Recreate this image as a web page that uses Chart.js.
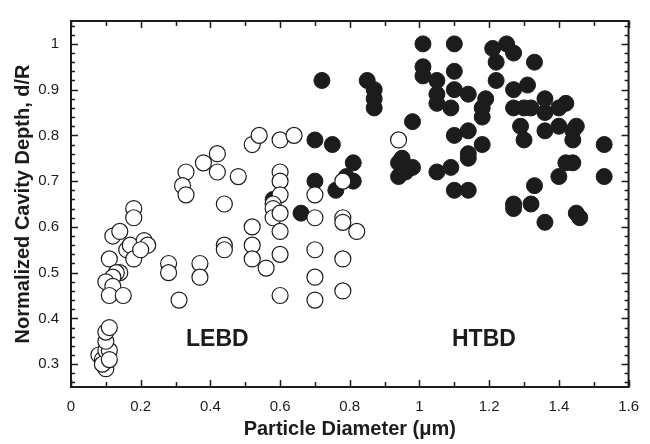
<!DOCTYPE html>
<html><head><meta charset="utf-8">
<script src="https://cdn.jsdelivr.net/npm/chart.js@4.4.1/dist/chart.umd.min.js"></script>
<style>html,body{margin:0;padding:0;background:#fff}#wrap{width:650px;height:444px}</style>
</head><body><div id="wrap"><canvas id="c" width="650" height="444"></canvas></div>
<script>
// ---- data ----
const xTickValues = [0, 0.2, 0.4, 0.6, 0.8, 1, 1.2, 1.4, 1.6];
const yTickValues = [0.3, 0.4, 0.5, 0.6, 0.7, 0.8, 0.9, 1];

const lebdX = [0.08,0.09,0.10,0.09,0.10,0.11,0.10,0.10,0.11,0.11,
  0.18,0.18,0.12,0.14,0.16,0.17,0.21,0.22,0.18,0.11,0.14,0.13,0.12,0.10,0.12,0.11,0.15,0.20,0.28,0.28,0.31,
  0.33,0.32,0.33,0.38,0.42,0.42,0.48,0.44,0.52,0.54,0.60,0.64,0.60,0.60,0.60,0.58,0.58,0.58,0.60,0.60,
  0.52,0.52,0.52,0.44,0.44,0.56,0.60,0.37,0.37,0.60,0.70,0.70,0.78,0.78,0.78,0.82,0.70,0.78,0.70,0.70,0.78,0.94];
const lebdY = [0.32,0.31,0.29,0.30,0.33,0.33,0.35,0.37,0.38,0.31,
  0.64,0.62,0.58,0.59,0.55,0.56,0.57,0.56,0.53,0.53,0.50,0.50,0.49,0.48,0.47,0.45,0.45,0.55,0.52,0.50,0.44,
  0.72,0.69,0.67,0.74,0.76,0.72,0.71,0.65,0.78,0.80,0.79,0.80,0.72,0.70,0.67,0.65,0.64,0.62,0.63,0.59,
  0.60,0.56,0.53,0.56,0.55,0.51,0.54,0.52,0.49,0.45,0.67,0.62,0.70,0.62,0.61,0.59,0.55,0.53,0.49,0.44,0.46,0.79];

const htbdX = [0.58,0.66,0.70,0.75,0.72,0.81,0.79,0.81,0.76,0.70,0.85,0.87,0.87,0.87,0.98,
  0.95,0.94,0.98,0.94,0.96,1.01,1.10,1.01,1.01,1.05,1.05,1.05,1.09,1.10,1.10,1.14,1.05,1.09,1.10,1.14,1.14,1.14,
  1.18,1.10,1.14,1.18,1.18,1.19,1.21,1.22,1.22,1.25,1.27,1.33,1.27,1.31,1.27,1.30,1.32,1.36,1.36,1.40,1.42,
  1.29,1.30,1.36,1.40,1.44,1.45,1.44,1.53,1.42,1.44,1.40,1.53,1.33,1.27,1.27,1.32,1.36,1.45,1.46];
const htbdY = [0.66,0.63,0.79,0.78,0.92,0.74,0.71,0.70,0.68,0.70,0.92,0.90,0.88,0.86,0.83,
  0.75,0.74,0.73,0.71,0.72,1.00,1.00,0.95,0.93,0.92,0.89,0.87,0.86,0.94,0.90,0.89,0.72,0.73,0.80,0.81,0.76,0.75,
  0.78,0.68,0.68,0.86,0.84,0.88,0.99,0.96,0.92,1.00,0.98,0.96,0.90,0.91,0.86,0.86,0.86,0.88,0.85,0.86,0.87,
  0.82,0.79,0.81,0.82,0.81,0.82,0.79,0.78,0.74,0.74,0.71,0.71,0.69,0.65,0.64,0.65,0.61,0.63,0.62];

const regionNames = ["LEBD", "HTBD"];
const regionX = [0.42, 1.185];
const regionY = [0.354, 0.354];

// ---- build ----
const toPts = (xs, ys) => xs.map((x, i) => ({x: x, y: ys[i]}));
const FONT = "'Liberation Sans', Arial, Helvetica, sans-serif";
const INK = '#1c1c1c';

const framePlugin = {
  id: 'frame',
  afterDraw(chart) {
    const ctx = chart.ctx, a = chart.chartArea;
    const xs = chart.scales.x, ys = chart.scales.y;
    ctx.save();
    ctx.strokeStyle = INK;
    ctx.lineWidth = 2;
    ctx.strokeRect(a.left, a.top, a.right - a.left, a.bottom - a.top);
    ctx.lineWidth = 1.5;
    ctx.beginPath();
    for (let i = 0; i <= 16; i++) {
      const px = Math.round(xs.getPixelForValue(i / 10)) + 0.5;
      const len = (i % 2 === 0) ? 7 : 5;
      ctx.moveTo(px, a.bottom); ctx.lineTo(px, a.bottom - len);
      ctx.moveTo(px, a.top); ctx.lineTo(px, a.top + len);
    }
    for (let i = 26; i <= 104; i += 2) {
      const py = Math.round(ys.getPixelForValue(i / 100)) + 0.5;
      const len = (i % 10 === 0) ? 7 : 4;
      ctx.moveTo(a.left, py); ctx.lineTo(a.left + len, py);
      ctx.moveTo(a.right, py); ctx.lineTo(a.right - len, py);
    }
    ctx.stroke();
    ctx.fillStyle = INK;
    ctx.font = 'bold 23px ' + FONT;
    ctx.textAlign = 'center';
    ctx.textBaseline = 'middle';
    regionNames.forEach((n, i) => {
      ctx.fillText(n, xs.getPixelForValue(regionX[i]), ys.getPixelForValue(regionY[i]));
    });
    ctx.restore();
  }
};

new Chart(document.getElementById('c'), {
  type: 'scatter',
  data: {
    datasets: [
      {label: 'LEBD', data: toPts(lebdX, lebdY), pointRadius: 8, pointHoverRadius: 8,
       pointBackgroundColor: '#ffffff', pointBorderColor: INK, pointBorderWidth: 1.2},
      {label: 'HTBD', data: toPts(htbdX, htbdY), pointRadius: 8, pointHoverRadius: 8,
       pointBackgroundColor: INK, pointBorderColor: INK, pointBorderWidth: 1}
    ]
  },
  options: {
    responsive: false,
    animation: false,
    events: [],
    layout: {padding: {left: 0, top: 13, right: 13, bottom: 0}},
    plugins: {legend: {display: false}, tooltip: {enabled: false}},
    scales: {
      x: {
        type: 'linear', min: 0, max: 1.6,
        afterFit(s) { s.height = 57; },
        afterBuildTicks(s) { s.ticks = xTickValues.map(v => ({value: v})); },
        grid: {display: false, drawTicks: false},
        border: {display: false},
        ticks: {padding: 11, color: INK, font: {family: FONT, size: 15},
                callback: v => String(v)},
        title: {display: true, text: 'Particle Diameter (\u03bcm)', color: INK,
                font: {family: FONT, size: 20, weight: 'bold'}, padding: {top: 0, bottom: 3}}
      },
      y: {
        type: 'linear', min: 0.25, max: 1.05,
        afterFit(s) { s.width = 71; },
        afterBuildTicks(s) { s.ticks = yTickValues.map(v => ({value: v})); },
        grid: {display: false, drawTicks: false},
        border: {display: false},
        ticks: {padding: 12, color: INK, font: {family: FONT, size: 15},
                callback: v => String(v)},
        title: {display: true, text: 'Normalized Cavity Depth, d/R', color: INK,
                font: {family: FONT, size: 20, weight: 'bold'}, padding: {top: 11, bottom: 0}}
      }
    }
  },
  plugins: [framePlugin]
});
</script>
</body></html>
